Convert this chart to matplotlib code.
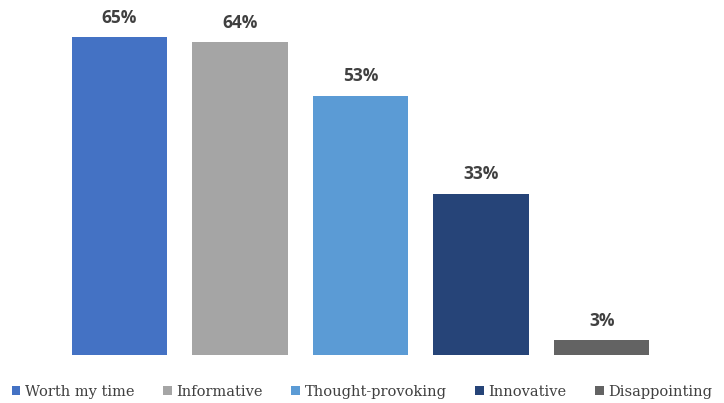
import matplotlib.pyplot as plt
from matplotlib.patches import Patch
import numpy as np

categories = ['Worth my time', 'Informative', 'Thought-provoking', 'Innovative', 'Disappointing']
values = [65, 64, 53, 33, 3]
colors = ['#4472C4', '#A5A5A5', '#5B9BD5', '#264478', '#636363']

fig = plt.figure(figsize=(7.24, 4.03), dpi=100)
ax = fig.add_axes([59 / 724, 48 / 403, 603 / 724, 342 / 403])

x = np.arange(len(values))
bars = ax.bar(x, values, 0.79, color=colors)
for xi, v in zip(x, values):
    ax.text(xi, v + 2.2, f'{v}%', ha='center', va='bottom', fontsize=12.5,
            fontweight='bold', color='#404040', family='Open Sans')

ax.set_xlim(-0.5, len(values) - 0.5)
ax.set_ylim(0, 70)
ax.axis('off')

handles = [Patch(facecolor=c, label=l) for c, l in zip(colors, categories)]
fig.legend(handles=handles, loc='lower center', bbox_to_anchor=(0.5, -0.022), ncol=5,
           frameon=False, handlelength=0.6, handleheight=0.6, handletextpad=0.3,
           columnspacing=1.97, prop={'family': 'DejaVu Serif', 'size': 10.5},
           labelcolor='#404040')

fig.savefig('out.png', dpi=100)
